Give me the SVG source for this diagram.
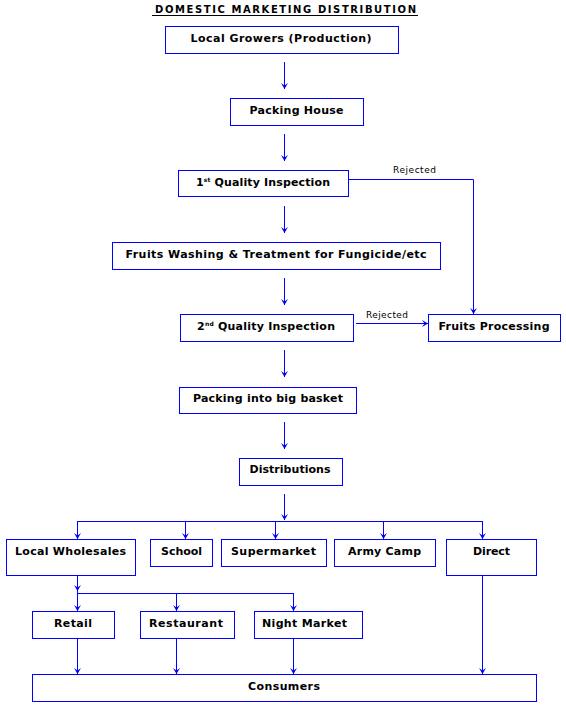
<svg xmlns="http://www.w3.org/2000/svg" width="566" height="709" viewBox="0 0 566 709">
<style>
.box{fill:#fff;stroke:#0000FF;stroke-width:1}
.lbl{font-family:"DejaVu Sans","Verdana",sans-serif;font-size:11px;font-weight:bold;fill:#000;text-anchor:middle}
.rej{font-family:"DejaVu Sans","Verdana",sans-serif;font-size:9px;fill:#000}
.ttl{font-family:"DejaVu Sans","Verdana",sans-serif;font-size:10px;font-weight:bold;fill:#000}
.ln{fill:none;stroke:#0000FF;stroke-width:1}
.arr{marker-end:url(#ah)}
</style>
<defs>
<marker id="ah" markerUnits="userSpaceOnUse" orient="auto" markerWidth="10" markerHeight="10" viewBox="-8 -5 10 10" refX="0" refY="0" overflow="visible">
<path d="M0,0 L-6,-3.5 L-3.5,0 L-6,3.5 Z" fill="#0000FF"/>
</marker>
</defs>
<rect width="566" height="709" fill="#fff"/>
<g id="title">
<text class="ttl" x="155" y="13" textLength="261">DOMESTIC MARKETING DISTRIBUTION</text>
<line x1="152" y1="15.5" x2="418" y2="15.5" stroke="#000" stroke-width="1"/>
</g>
<g id="connectors">
<line class="ln arr" x1="284.5" y1="62" x2="284.5" y2="89"/>
<line class="ln arr" x1="284.5" y1="134" x2="284.5" y2="161"/>
<line class="ln arr" x1="284.5" y1="206" x2="284.5" y2="233"/>
<line class="ln arr" x1="284.5" y1="278" x2="284.5" y2="305"/>
<line class="ln arr" x1="284.5" y1="350" x2="284.5" y2="377"/>
<line class="ln arr" x1="284.5" y1="422" x2="284.5" y2="449"/>
<line class="ln arr" x1="284.5" y1="494" x2="284.5" y2="520"/>
<polyline class="ln arr" points="348,179.5 473.5,179.5 473.5,314"/>
<line class="ln arr" x1="356" y1="323.5" x2="428" y2="323.5"/>
<line class="ln" x1="77" y1="521.5" x2="483" y2="521.5"/>
<line class="ln arr" x1="77.5" y1="521.5" x2="77.5" y2="539"/>
<line class="ln arr" x1="185.5" y1="521.5" x2="185.5" y2="539"/>
<line class="ln arr" x1="275.5" y1="521.5" x2="275.5" y2="539"/>
<line class="ln arr" x1="383.5" y1="521.5" x2="383.5" y2="539"/>
<line class="ln arr" x1="482.5" y1="521.5" x2="482.5" y2="539"/>
<line class="ln arr" x1="77.5" y1="575" x2="77.5" y2="591"/>
<line class="ln" x1="77.5" y1="590" x2="77.5" y2="594"/>
<line class="ln" x1="77" y1="593.5" x2="294" y2="593.5"/>
<line class="ln arr" x1="77.5" y1="593.5" x2="77.5" y2="611"/>
<line class="ln arr" x1="176.5" y1="593.5" x2="176.5" y2="611"/>
<line class="ln arr" x1="293.5" y1="593.5" x2="293.5" y2="611"/>
<line class="ln arr" x1="77.5" y1="638" x2="77.5" y2="674"/>
<line class="ln arr" x1="176.5" y1="638" x2="176.5" y2="674"/>
<line class="ln arr" x1="293.5" y1="638" x2="293.5" y2="674"/>
<line class="ln arr" x1="482.5" y1="575" x2="482.5" y2="674"/>
<text class="rej" x="393" y="173" textLength="43">Rejected</text>
<text class="rej" x="366" y="318" textLength="42">Rejected</text>
</g>
<g id="growers"><rect class="box" x="165.5" y="26.5" width="233" height="27"/><text class="lbl" x="281" y="42" textLength="181">Local Growers (Production)</text></g>
<g id="packing-house"><rect class="box" x="230.5" y="98.5" width="133" height="27"/><text class="lbl" x="296.5" y="114" textLength="94">Packing House</text></g>
<g id="q1"><rect class="box" x="178.5" y="170.5" width="170" height="26"/><text class="lbl" x="263" y="186" textLength="134">1<tspan font-size="6" dy="-4">st</tspan><tspan dy="4"> Quality Inspection</tspan></text></g>
<g id="washing"><rect class="box" x="112.5" y="242.5" width="328" height="27"/><text class="lbl" x="276" y="258" textLength="301">Fruits Washing &amp; Treatment for Fungicide/etc</text></g>
<g id="q2"><rect class="box" x="180.5" y="314.5" width="173" height="27"/><text class="lbl" x="266" y="330" textLength="138">2<tspan font-size="6" dy="-4">nd</tspan><tspan dy="4"> Quality Inspection</tspan></text></g>
<g id="processing"><rect class="box" x="428.5" y="314.5" width="132" height="27"/><text class="lbl" x="494" y="330" textLength="111">Fruits Processing</text></g>
<g id="basket"><rect class="box" x="179.5" y="387.5" width="177" height="26"/><text class="lbl" x="268" y="402" textLength="150">Packing into big basket</text></g>
<g id="distributions"><rect class="box" x="239.5" y="458.5" width="103" height="27"/><text class="lbl" x="290" y="473" textLength="81">Distributions</text></g>
<g id="wholesales"><rect class="box" x="6.5" y="539.5" width="129" height="36"/><text class="lbl" x="70.5" y="555" textLength="111">Local Wholesales</text></g>
<g id="school"><rect class="box" x="150.5" y="539.5" width="62" height="27"/><text class="lbl" x="181.5" y="555" textLength="41">School</text></g>
<g id="supermarket"><rect class="box" x="221.5" y="539.5" width="105" height="27"/><text class="lbl" x="273.5" y="555" textLength="85">Supermarket</text></g>
<g id="army-camp"><rect class="box" x="334.5" y="539.5" width="101" height="27"/><text class="lbl" x="384.5" y="555" textLength="73">Army Camp</text></g>
<g id="direct"><rect class="box" x="446.5" y="539.5" width="90" height="36"/><text class="lbl" x="491.5" y="555" textLength="37">Direct</text></g>
<g id="retail"><rect class="box" x="32.5" y="611.5" width="82" height="27"/><text class="lbl" x="73" y="627" textLength="38">Retail</text></g>
<g id="restaurant"><rect class="box" x="140.5" y="611.5" width="94" height="27"/><text class="lbl" x="186" y="627" textLength="74">Restaurant</text></g>
<g id="night-market"><rect class="box" x="254.5" y="611.5" width="108" height="27"/><text class="lbl" x="304.5" y="627" textLength="85">Night Market</text></g>
<g id="consumers"><rect class="box" x="32.5" y="674.5" width="504" height="27"/><text class="lbl" x="284" y="690" textLength="72">Consumers</text></g>
</svg>
